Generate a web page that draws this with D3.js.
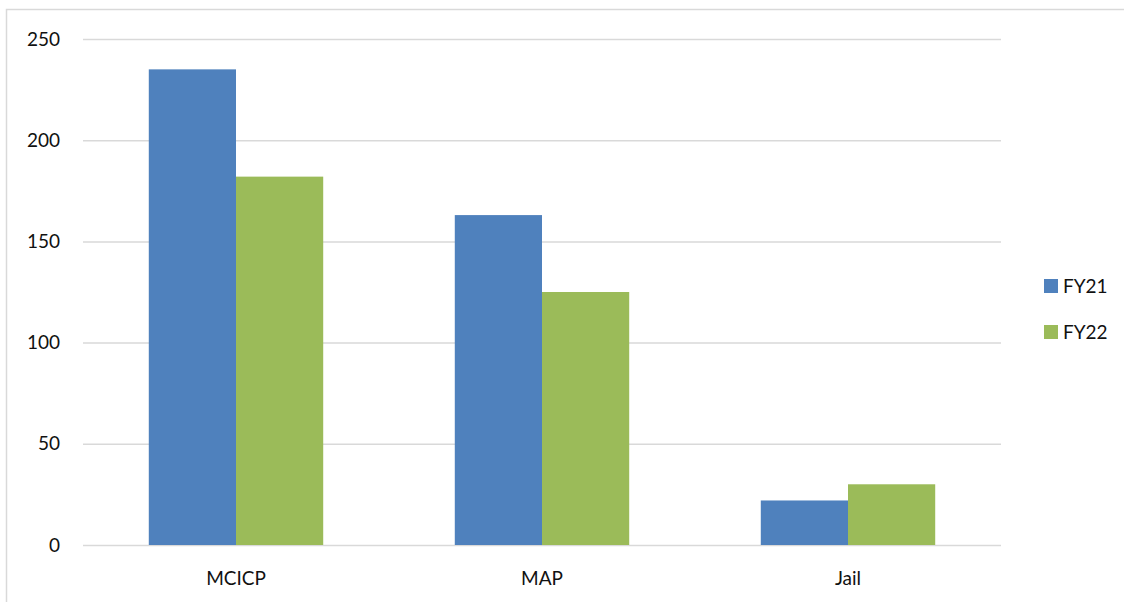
<!DOCTYPE html>
<html><head><meta charset="utf-8">
<script src="https://cdn.jsdelivr.net/npm/d3@7"></script>
<style>body{margin:0;background:#fff;}svg{display:block;}</style>
</head><body>
<script>
const categories = ["MCICP", "MAP", "Jail"];
const seriesNames = ["FY21", "FY22"];
const fy21 = [235, 163, 22];
const fy22 = [182, 125, 30];
const yTicks = [0, 50, 100, 150, 200, 250];
const colors = ["#4f81bd", "#9bbb59"];

(function () {
const W = 1124, H = 602;
const svg = d3.select("body").append("svg").attr("width", W).attr("height", H);
const font = "Lato, 'Open Sans', sans-serif";

svg.append("rect").attr("x", 6.5).attr("y", 9.5).attr("width", W).attr("height", H)
  .attr("fill", "#fff").attr("stroke", "#d9d9d9").attr("stroke-width", 1.5);

const mLeft = 83, mRight = 1001, mTop = 39, mBottom = 545;
const y = d3.scaleLinear().domain([0, 250]).range([mBottom, mTop]);
const x0 = d3.scaleBand().domain(categories).range([mLeft, mRight]).paddingInner(0.43).paddingOuter(0.215);
const x1 = d3.scaleBand().domain(seriesNames).range([0, x0.bandwidth()]);

const yAxis = d3.axisLeft(y).tickValues(yTicks).tickSize(-(mRight - mLeft)).tickPadding(23);
const gy = svg.append("g").attr("transform", `translate(${mLeft},0)`).call(yAxis);
gy.select(".domain").remove();
gy.selectAll(".tick line").attr("stroke", "#d9d9d9").attr("stroke-width", 1.5);
gy.selectAll(".tick text").attr("font-family", font).attr("font-size", 19).attr("fill", "#111");

const data = categories.map((c, i) => ({cat: c, vals: [fy21[i], fy22[i]]}));
const g = svg.append("g");
data.forEach(d => {
  d.vals.forEach((v, j) => {
    g.append("rect")
      .attr("x", x0(d.cat) + x1(seriesNames[j]))
      .attr("y", y(v))
      .attr("width", x1.bandwidth())
      .attr("height", y(0) - y(v))
      .attr("fill", colors[j]);
  });
});

const xAxis = d3.axisBottom(x0).tickSize(0).tickPadding(27);
const gx = svg.append("g").attr("transform", `translate(0,${mBottom})`).call(xAxis);
gx.select(".domain").remove();
gx.selectAll(".tick text").attr("font-family", font).attr("font-size", 19).attr("fill", "#111");

const legend = svg.append("g");
seriesNames.forEach((s, i) => {
  const ly = 279 + i * 46;
  legend.append("rect").attr("x", 1044).attr("y", ly).attr("width", 14).attr("height", 14).attr("fill", colors[i]);
  legend.append("text").attr("x", 1063).attr("y", ly + 14).attr("font-family", font).attr("font-size", 19)
    .attr("fill", "#111").text(s);
});
})();
</script>
</body></html>
